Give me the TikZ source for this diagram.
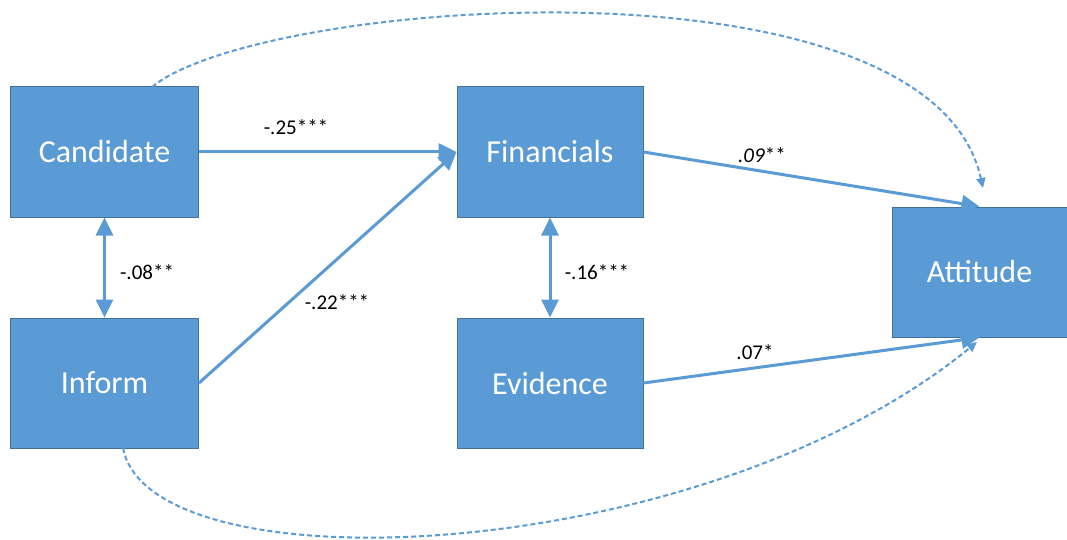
\documentclass[tikz,border=0pt]{standalone}
\usepackage{fontspec}
\setmainfont{Carlito}
\usetikzlibrary{arrows.meta}
\definecolor{boxblue}{HTML}{5B9BD5}
\definecolor{boxedge}{HTML}{41719C}
\begin{document}
\begin{tikzpicture}[x=1pt,y=-1pt,
  var/.style={draw=boxedge, line width=1pt, fill=boxblue, text=white,
    font=\fontsize{32}{36}\selectfont, minimum height=130pt, inner sep=0pt},
  effect/.style={draw=boxblue, line width=3pt, -{Triangle[length=18pt,width=17pt]}},
  corr/.style={draw=boxblue, line width=3pt, {Triangle[length=18pt,width=17pt]}-{Triangle[length=18pt,width=17pt]}},
  direct/.style={draw=boxblue, line width=2pt, dash pattern=on 5pt off 3pt, -{Triangle[length=10pt,width=9pt]}},
  coef/.style={font=\fontsize{21}{24}\selectfont, text=black, inner sep=0pt}
]
\useasboundingbox (0,0) rectangle (1067,540);

% variables
\node[var, minimum width=188pt] (cand) at (104.5,152) {Candidate};
\node[var, minimum width=188pt] (inf)  at (104.5,383) {Inform};
\node[var, minimum width=186pt] (fin)  at (550,152) {Financials};
\node[var, minimum width=186pt] (evi)  at (550,383) {Evidence};
\node[var, minimum width=175pt] (att)  at (979.5,272) {Attitude};

% anchor points of the dashed direct paths
\coordinate (candtop) at (152,87);
\coordinate (inftop) at (123,448);
\coordinate (atttop) at (983,188);
\coordinate (attbot) at (977,342);

% structural paths
\draw[effect] (cand.east) -- (fin.west);
\draw[effect] (inf.east) -- (fin.west);
\draw[effect] (fin.east) -- (att.north);
\draw[effect] (evi.east) -- (att.south);
\draw[corr] (cand.south) -- (inf.north);
\draw[corr] (fin.south) -- (evi.north);

% direct paths
\draw[direct] (candtop) .. controls (260,-2) and (930,-52) .. (atttop);
\draw[direct] (inftop) .. controls (150,590) and (700,568) .. (attbot);

% coefficients
\node[coef] (c1) at (296,127) {-.25***};
\node[coef] (c2) at (147,272) {-.08**};
\node[coef] (c3) at (337,302) {-.22***};
\node[coef] (c4) at (762,155) {\textit{.09}**};
\node[coef] (c5) at (597,272) {-.16***};
\node[coef] (c6) at (755,352) {.07*};
\end{tikzpicture}
\end{document}
